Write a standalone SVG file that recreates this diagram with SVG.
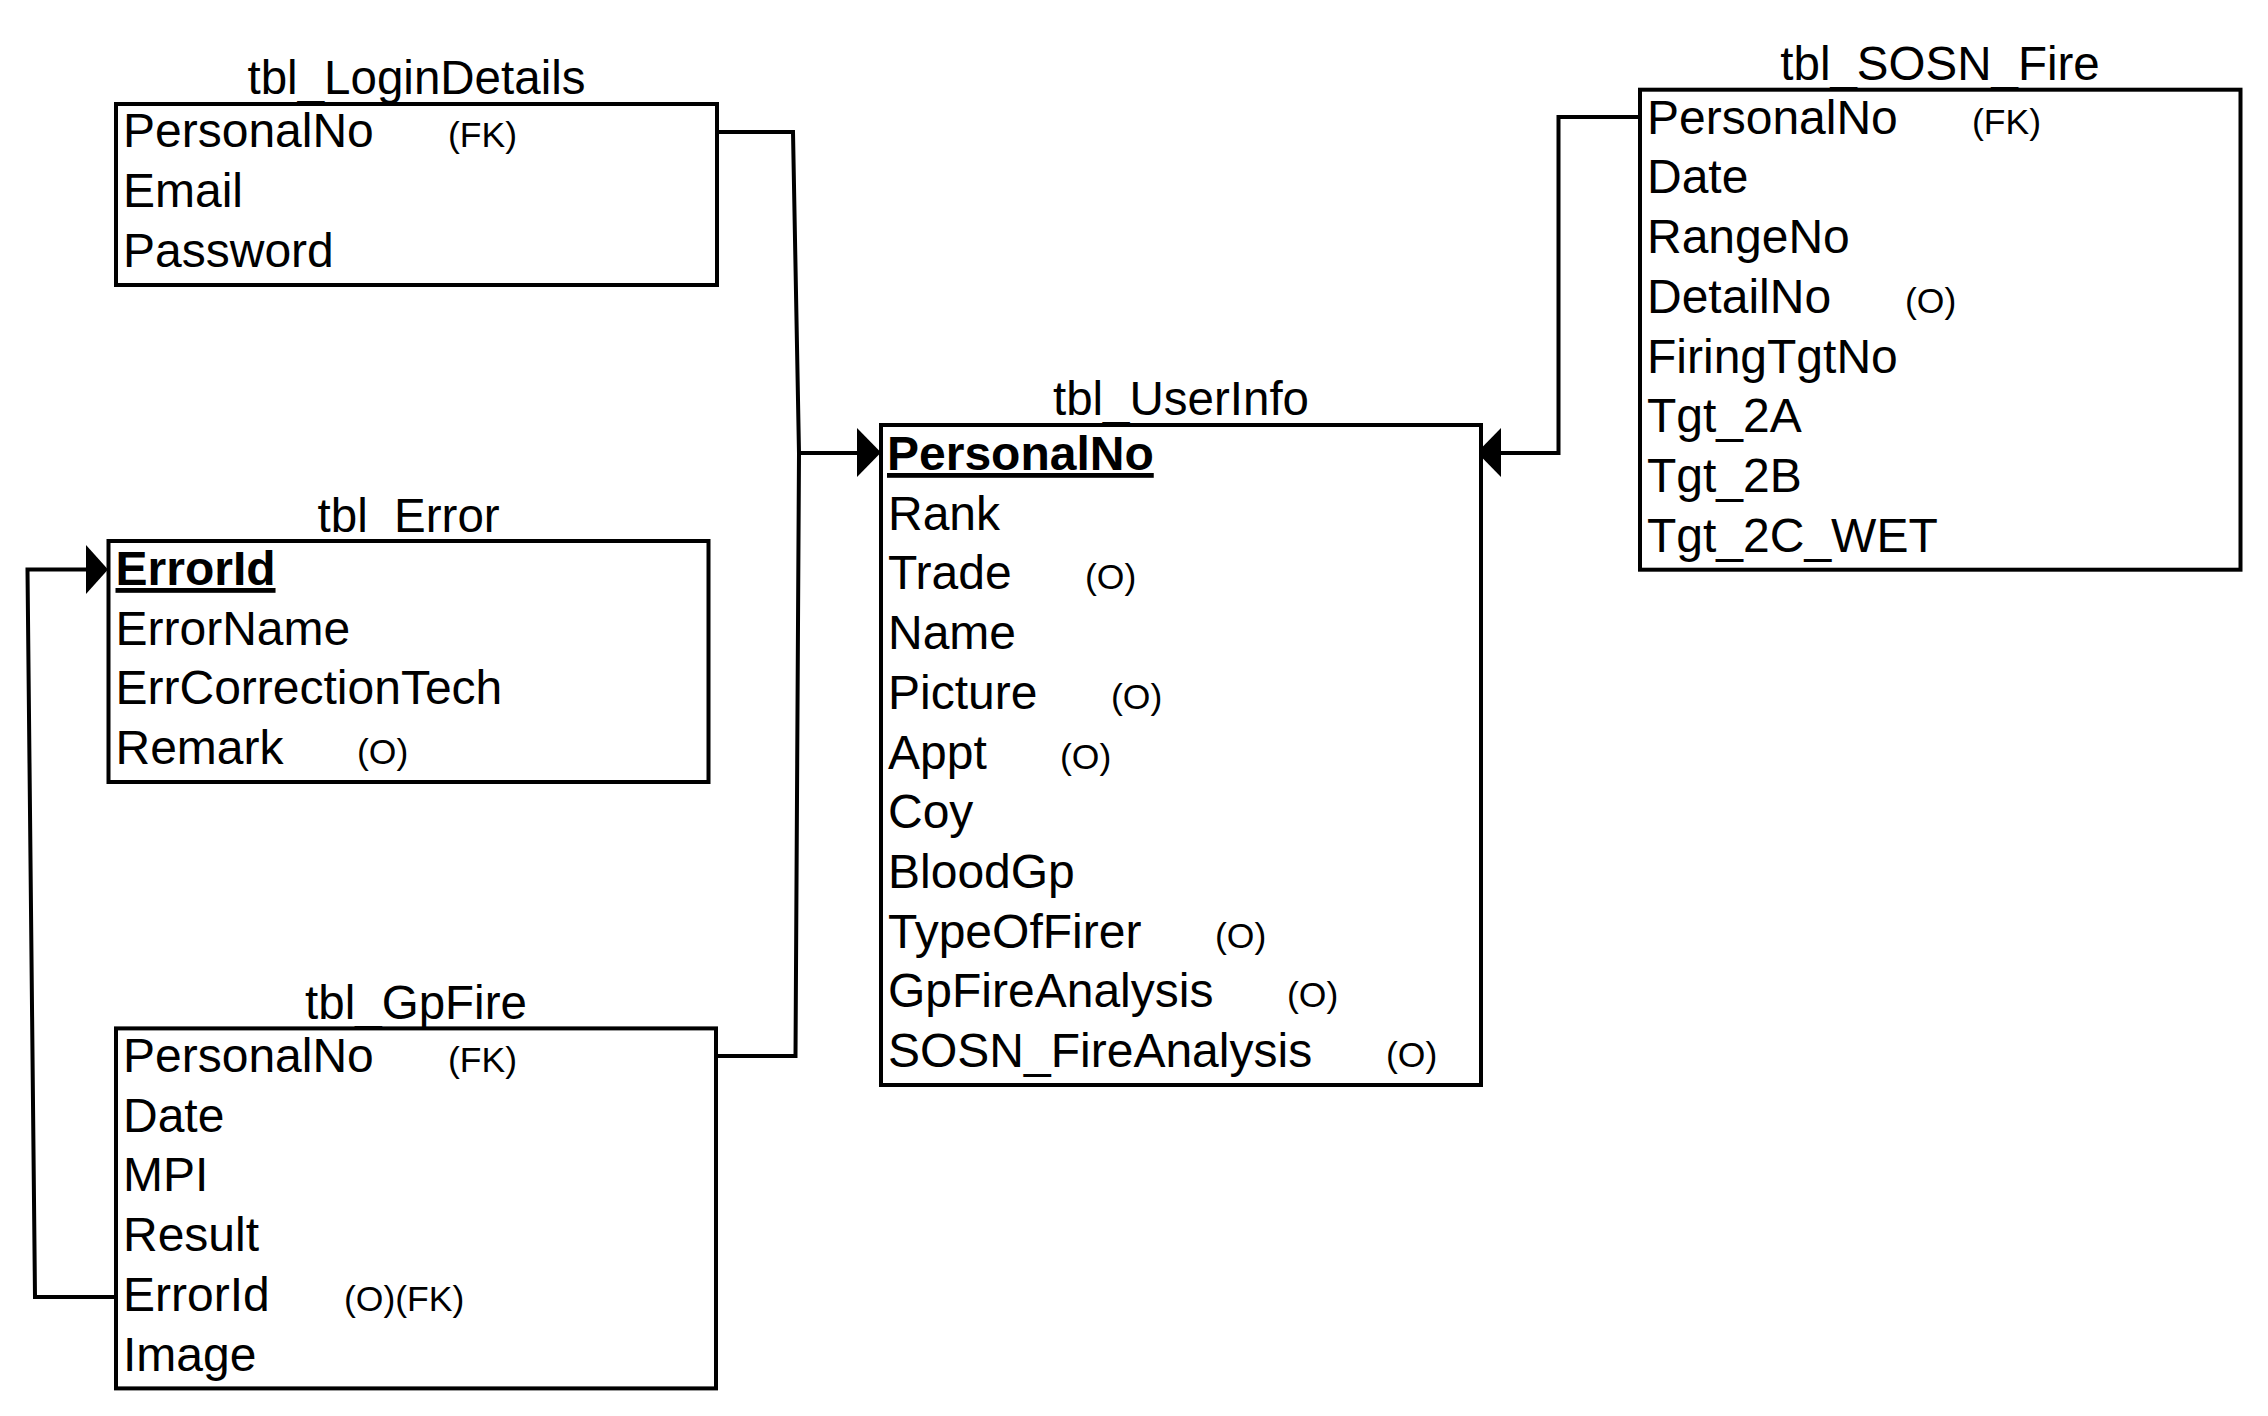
<svg xmlns="http://www.w3.org/2000/svg" width="2268" height="1416" viewBox="0 0 2268 1416">
<style>
  .box { fill: #fff; stroke: #000; stroke-width: 4; }
  .t { font-family: "Liberation Sans", Arial, sans-serif; font-size: 48px; fill: #000; }
  .title { font-family: "Liberation Sans", Arial, sans-serif; font-size: 47.5px; fill: #000; text-anchor: middle; }
  .pk { font-weight: bold; text-decoration: underline; }
  .s { font-family: "Liberation Sans", Arial, sans-serif; font-size: 35.5px; fill: #000; }
  .ln { fill: none; stroke: #000; stroke-width: 4; }
  .ah { fill: #000; stroke: none; }
</style>
<rect width="2268" height="1416" fill="#fff"/>

<g id="connectors">
  <path class="ln" d="M717,132 H793 L799,453 H862"/>
  <path class="ln" d="M716,1056 H795.5 L799,453"/>
  <polygon class="ah" points="857,428 881,452.5 857,477"/>
  <path class="ln" d="M1640,117 H1558.5 V453 H1498"/>
  <polygon class="ah" points="1501,428 1477,452.5 1501,477"/>
  <path class="ln" d="M116,1297 H35 L27.5,569.5 H90"/>
  <polygon class="ah" points="86,545 108,569.5 86,594"/>
</g>

<g id="tbl_LoginDetails">
  <text class="title" x="416.5" y="94">tbl_LoginDetails</text>
  <rect class="box" x="116" y="104" width="601" height="181"/>
  <text class="t" x="123" y="147">PersonalNo</text>
  <text class="s" x="448" y="147">(FK)</text>
  <text class="t" x="123" y="207">Email</text>
  <text class="t" x="123" y="267">Password</text>
</g>

<g id="tbl_Error">
  <text class="title" x="408.6" y="531.5">tbl_Error</text>
  <rect class="box" x="108.5" y="541" width="600" height="241"/>
  <text class="t pk" x="115.5" y="585">ErrorId</text>
  <text class="t" x="115.5" y="644.7">ErrorName</text>
  <text class="t" x="115.5" y="704.4">ErrCorrectionTech</text>
  <text class="t" x="115.5" y="764.1">Remark</text>
  <text class="s" x="357" y="764.1">(O)</text>
</g>

<g id="tbl_GpFire">
  <text class="title" x="416" y="1019">tbl_GpFire</text>
  <rect class="box" x="116" y="1028.4" width="600" height="360"/>
  <text class="t" x="123" y="1072">PersonalNo</text>
  <text class="s" x="448" y="1072">(FK)</text>
  <text class="t" x="123" y="1131.7">Date</text>
  <text class="t" x="123" y="1191.4">MPI</text>
  <text class="t" x="123" y="1251.1">Result</text>
  <text class="t" x="123" y="1310.8">ErrorId</text>
  <text class="s" x="344" y="1310.8">(O)(FK)</text>
  <text class="t" x="123" y="1370.5">Image</text>
</g>

<g id="tbl_UserInfo">
  <text class="title" x="1181" y="415">tbl_UserInfo</text>
  <rect class="box" x="881" y="425" width="600" height="660"/>
  <text class="t pk" x="887" y="470">PersonalNo</text>
  <text class="t" x="888" y="529.7">Rank</text>
  <text class="t" x="888" y="589.4">Trade</text>
  <text class="s" x="1085" y="589.4">(O)</text>
  <text class="t" x="888" y="649.1">Name</text>
  <text class="t" x="888" y="708.8">Picture</text>
  <text class="s" x="1111" y="708.8">(O)</text>
  <text class="t" x="888" y="768.5">Appt</text>
  <text class="s" x="1060" y="768.5">(O)</text>
  <text class="t" x="888" y="828.2">Coy</text>
  <text class="t" x="888" y="887.9">BloodGp</text>
  <text class="t" x="888" y="947.6">TypeOfFirer</text>
  <text class="s" x="1215" y="947.6">(O)</text>
  <text class="t" x="888" y="1007.3">GpFireAnalysis</text>
  <text class="s" x="1287" y="1007.3">(O)</text>
  <text class="t" x="888" y="1067">SOSN_FireAnalysis</text>
  <text class="s" x="1386" y="1067">(O)</text>
</g>

<g id="tbl_SOSN_Fire">
  <text class="title" x="1940" y="80">tbl_SOSN_Fire</text>
  <rect class="box" x="1640" y="89.7" width="600.5" height="480"/>
  <text class="t" x="1647" y="133.7">PersonalNo</text>
  <text class="s" x="1972" y="133.7">(FK)</text>
  <text class="t" x="1647" y="193.4">Date</text>
  <text class="t" x="1647" y="253.1">RangeNo</text>
  <text class="t" x="1647" y="312.8">DetailNo</text>
  <text class="s" x="1905" y="312.8">(O)</text>
  <text class="t" x="1647" y="372.5">FiringTgtNo</text>
  <text class="t" x="1647" y="432.2">Tgt_2A</text>
  <text class="t" x="1647" y="491.9">Tgt_2B</text>
  <text class="t" x="1647" y="551.6">Tgt_2C_WET</text>
</g>
</svg>
